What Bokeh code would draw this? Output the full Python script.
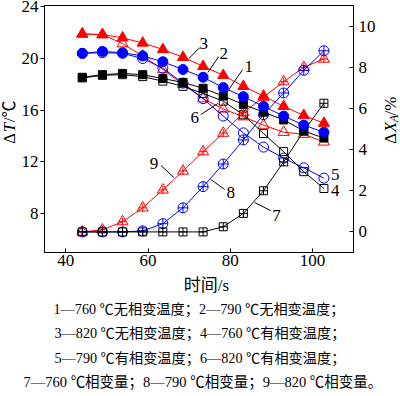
from bokeh.plotting import figure
from bokeh.models import Range1d, LinearAxis, Label, FixedTicker, InlineStyleSheet
from bokeh.layouts import row, column
from bokeh.embed import file_html
from bokeh.resources import INLINE

# ---------------- data ----------------
time_s = [44, 48.9, 53.8, 58.7, 63.6, 68.5, 73.4, 78.3, 83.2, 88.1, 93.0, 97.9, 102.8]
# temperature difference (left axis, degC)
t1_760_no = [18.55, 18.75, 18.85, 18.75, 18.45, 18.15, 17.7, 17.1, 16.45, 15.85, 15.25, 14.4, 13.85]
t2_790_no = [20.4, 20.55, 20.45, 20.2, 19.75, 19.15, 18.55, 17.75, 17.05, 16.3, 15.55, 14.85, 14.3]
t3_820_no = [21.9, 21.85, 21.6, 21.2, 20.7, 20.1, 19.4, 18.7, 17.85, 17.1, 16.3, 15.6, 15.0]
t4_760_pt = [18.5, 18.7, 18.75, 18.6, 18.25, 17.85, 17.3, 16.7, 15.65, 14.2, 12.8, 11.25, 9.95]
t5_790_pt = [20.4, 20.45, 20.4, 20.0, 19.25, 18.1, 16.9, 15.55, 14.25, 13.15, 12.3, 11.55, 10.75]
t6_820_pt = [21.9, 21.85, 21.15, 20.2, 19.15, 18.0, 16.9, 16.1, 15.5, 14.85, 14.3, 14.15, 13.55]
# phase transformation amount (right axis, %)
x7_760 = [0, 0, 0, 0, 0, 0, 0, 0.25, 0.9, 2.0, 3.4, 4.9, 6.25]
x8_790 = [0, 0, 0, 0.05, 0.4, 1.17, 2.2, 3.3, 4.47, 5.7, 6.75, 7.85, 8.8]
x9_820 = [0, 0.1, 0.5, 1.17, 2.04, 2.96, 3.9, 4.8, 5.8, 6.55, 7.3, 8.0, 8.4]

left_ticks = [8, 12, 16, 20, 24]
right_ticks = [0, 2, 4, 6, 8, 10]
bottom_ticks = [40, 60, 80, 100]

x_title = "时间/s"
caption_lines = [
    "1—760 ℃无相变温度；2—790 ℃无相变温度；",
    "3—820 ℃无相变温度；4—760 ℃有相变温度；",
    "5—790 ℃有相变温度；6—820 ℃有相变温度；",
    "7—760 ℃相变量；8—790 ℃相变量；9—820 ℃相变量。",
]

RED = "#ff0000"
BLUE = "#0000ff"
BLACK = "#000000"
SERIF = "Liberation Serif, Noto Sans CJK SC"
FONT_CSS = ':host, text { font-family: "Liberation Serif", "Noto Sans CJK SC" !important; }'

X0, X1 = 34.8, 110.0
Y0, Y1 = 5.0, 24.1

# geometry (picture pixels)
W, H = 400, 396
LT_W, RT_W = 18, 20
TOP_H = 272
P_W = W - LT_W - RT_W

p = figure(width=P_W, height=TOP_H, x_range=Range1d(X0, X1), y_range=Range1d(Y0, Y1),
           output_backend="svg", toolbar_location=None,
           min_border_left=43 - LT_W, min_border_right=(W - RT_W) - 353,
           min_border_top=5, min_border_bottom=TOP_H - 252)
p.stylesheets = [InlineStyleSheet(css=FONT_CSS)]
p.extra_y_ranges = {"dx": Range1d(-1, 11)}
p.grid.visible = False
p.background_fill_color = "white"
p.border_fill_color = "white"
p.outline_line_color = "black"
p.outline_line_width = 1
p.outline_line_alpha = 1

rax = LinearAxis(y_range_name="dx")
p.add_layout(rax, "right")

p.axis.axis_line_color = "black"
p.axis.major_tick_line_color = "black"
p.axis.minor_tick_line_color = None
p.axis.major_label_text_font = "Liberation Serif"
p.axis.major_label_text_font_style = "normal"
p.axis.major_label_text_font_size = "17px"
p.axis.major_label_text_color = "black"

xax = p.below[0]
lax = p.left[0]
xax.ticker = FixedTicker(ticks=bottom_ticks)
xax.major_tick_in = 4
xax.major_tick_out = 0
xax.major_label_standoff = 2
lax.ticker = FixedTicker(ticks=left_ticks)
lax.major_tick_in = 0
lax.major_tick_out = 4
lax.major_label_standoff = 2
rax.ticker = FixedTicker(ticks=right_ticks)
rax.major_tick_in = 4
rax.major_tick_out = 0
rax.major_label_standoff = 5

# ---------------- series ----------------
def series(y, color, marker, size, filled, rng="default"):
    kw = {} if rng == "default" else {"y_range_name": rng}
    p.line(time_s, y, line_color=color, line_width=1, **kw)
    p.scatter(time_s, y, marker=marker, size=size, line_color=color, line_width=1,
              fill_color=color if filled else None, **kw)

series(t6_820_pt, RED, "triangle", 11, False)
series(t5_790_pt, BLUE, "circle", 10, False)
series(t4_760_pt, BLACK, "square", 8, False)
series(x9_820, RED, "triangle", 11, False, "dx")
p.scatter(time_s, x9_820, marker="cross", size=8, line_color=RED, y_range_name="dx")
series(x8_790, BLUE, "circle_cross", 10, False, "dx")
series(x7_760, BLACK, "square_cross", 8, False, "dx")
series(t1_760_no, BLACK, "square", 8, True)
series(t2_790_no, BLUE, "circle", 10, True)
series(t3_820_no, RED, "triangle", 11, True)

# ---------------- annotations inside plot (positions given in picture pixels) ----------------
def dx(px):
    return 40 + (px - 64.5) / 4.125

def dy(py):
    return Y1 - (py - 5) / 12.93

def put(fig, s, x, y, size="17px", style="normal", angle=0, align="center", font=SERIF):
    fig.add_layout(Label(x=x, y=y, text=s, text_font=font, text_font_size=size,
                         text_font_style=style, text_color="black", angle=angle, angle_units="deg",
                         text_align=align, text_baseline="middle"))

leaders = [
    ("1", 248, 66, (242, 69), (226, 92)),
    ("2", 223, 53, (218, 56), (207, 72)),
    ("3", 203, 43, (199, 47), (188, 58)),
    ("6", 194, 117, (200, 114), (217, 103)),
    ("7", 276, 215, (270, 210), (254, 202)),
    ("8", 230, 192, (224, 189), (210, 179)),
    ("9", 153, 163, (160, 165), (173, 177)),
]
for lab, lx, ly, a, b in leaders:
    p.line([dx(a[0]), dx(b[0])], [dy(a[1]), dy(b[1])], line_color="black", line_width=1)
    put(p, lab, dx(lx), dy(ly))
put(p, "5", dx(335), dy(174))
put(p, "4", dx(335), dy(190))

# ---------------- helper canvases for titles and caption ----------------
def blank(w, h):
    f = figure(width=w, height=h, x_range=Range1d(0, w), y_range=Range1d(h, 0),
               x_axis_type=None, y_axis_type=None, output_backend="svg",
               toolbar_location=None, min_border=0)
    f.outline_line_color = None
    f.background_fill_color = "white"
    f.border_fill_color = "white"
    return f

# left axis title  ΔT/℃  (picture x 0..18)
lt = blank(LT_W, TOP_H)
put(lt, "Δ", 8.5, 152.5, angle=90, align="left")
put(lt, "T", 8.5, 139.5, style="italic", angle=90, align="left")
put(lt, "/℃", 8.5, 128.5, angle=90, align="left")

# right axis title  ΔX_A/%  (picture x 380..400)
rt = blank(RT_W, TOP_H)
put(rt, "Δ", 9.5, 152.5, angle=90, align="left")
put(rt, "X", 9.5, 139.5, style="italic", angle=90, align="left")
put(rt, "A", 13.0, 128.5, size="12px", style="italic", angle=90, align="left")
put(rt, "/%", 9.5, 121, angle=90, align="left")

# x title and caption  (picture y 272..396)
cap = blank(W, H - TOP_H)
put(cap, x_title, 206, 285 - TOP_H)
for line, cy, cx, fs in zip(caption_lines, [308, 332, 357, 381], [53, 54, 54, 23],
                            ["14.2px", "14.2px", "14.2px", "14.5px"]):
    put(cap, line, cx, cy - TOP_H, size=fs, align="left")

layout = column(row(lt, p, rt, spacing=0), cap, spacing=0)

html = file_html(layout, INLINE)
html = html.replace("<head>", "<head><style>html,body{margin:0;padding:0;}</style>", 1)
open("out.html", "w").write(html)
